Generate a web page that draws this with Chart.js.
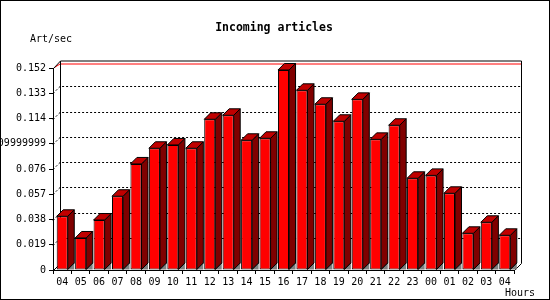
<!DOCTYPE html>
<html>
<head>
<meta charset="utf-8">
<script src="https://cdn.jsdelivr.net/npm/chart.js@4"></script>
<style>
  html, body { margin: 0; padding: 0; background: #fff; }
  canvas { display: block; }
</style>
</head>
<body>
<canvas id="chart" width="550" height="300"></canvas>
<script>
const hours = ['04', '05', '06', '07', '08', '09', '10', '11', '12', '13', '14', '15', '16',
  '17', '18', '19', '20', '21', '22', '23', '00', '01', '02', '03', '04'];
const artPerSec = [0.0404, 0.0241, 0.0376, 0.0555, 0.0798, 0.0916, 0.0941, 0.0916, 0.1134,
  0.1164, 0.0976, 0.0991, 0.1505, 0.1352, 0.1247, 0.1119, 0.1284, 0.0983, 0.1089, 0.0690,
  0.0712, 0.0577, 0.0276, 0.0359, 0.0261];
const tickValues = [0, 0.019, 0.038, 0.057, 0.076, 0.095, 0.114, 0.133, 0.152];
const tickLabels = ['0', '0.019', '0.038', '0.057', '0.076', '0.09999999', '0.114', '0.133', '0.152'];

const MONO = '"DejaVu Sans Mono", "Liberation Mono", monospace';
const WALL = 7;   // depth of the back wall
const DEPTH = 6.5; // depth of each bar

// back wall, floor and grid, drawn under the bars
const wallPlugin = {
  id: 'wall',
  beforeDatasetsDraw(chart) {
    const { ctx, chartArea: a, scales } = chart;
    const y = scales.y;
    ctx.save();
    ctx.lineWidth = 1;
    // dotted grid lines on back wall + left wall
    ctx.strokeStyle = '#000';
    ctx.setLineDash([2, 2]);
    tickValues.forEach((v, i) => {
      if (i === 0 || i === tickValues.length - 1) return;
      const fy = Math.round(y.getPixelForValue(v)) + 0.5;
      ctx.beginPath();
      ctx.moveTo(a.left, fy);
      ctx.lineTo(a.left + WALL, fy - WALL);
      ctx.lineTo(a.right + WALL, fy - WALL);
      ctx.stroke();
    });
    ctx.setLineDash([]);
    // red line at the max
    const topY = Math.round(a.top) + 0.5;
    ctx.strokeStyle = '#ff0000';
    ctx.beginPath();
    ctx.moveTo(a.left + 1.5, topY - 1);
    ctx.lineTo(a.left + WALL, topY - 4.5);
    ctx.lineTo(a.right + WALL, topY - 4.5);
    ctx.stroke();
    // wall frame
    ctx.strokeStyle = '#000';
    const L = Math.round(a.left) + 0.5, R = Math.round(a.right) + 0.5, B = Math.round(a.bottom) + 0.5;
    ctx.beginPath();
    ctx.moveTo(L, topY);
    ctx.lineTo(L + WALL, topY - WALL - 0.5);
    ctx.lineTo(R + WALL, topY - WALL - 0.5);
    ctx.lineTo(R + WALL, B - WALL);
    ctx.lineTo(R, B);
    ctx.moveTo(L + WALL, topY - WALL - 0.5);
    ctx.lineTo(L + WALL, B - WALL);
    ctx.lineTo(L, B);
    ctx.stroke();
    ctx.restore();
  },
  afterDatasetsDraw(chart) {
    const { ctx } = chart;
    const meta = chart.getDatasetMeta(0);
    ctx.save();
    ctx.lineWidth = 1;
    ctx.strokeStyle = '#000';
    meta.data.forEach(bar => {
      const l = bar.x - bar.width / 2;
      const r = bar.x + bar.width / 2;
      const t = bar.y;
      const b = bar.base;
      const d = DEPTH;
      // side
      ctx.fillStyle = '#800000';
      ctx.beginPath();
      ctx.moveTo(r, t);
      ctx.lineTo(r + d, t - d);
      ctx.lineTo(r + d, b - d);
      ctx.lineTo(r, b);
      ctx.closePath();
      ctx.fill();
      ctx.stroke();
      // top
      ctx.fillStyle = '#c00000';
      ctx.beginPath();
      ctx.moveTo(l, t);
      ctx.lineTo(l + d, t - d);
      ctx.lineTo(r + d, t - d);
      ctx.lineTo(r, t);
      ctx.closePath();
      ctx.fill();
      ctx.stroke();
      // floor shadow
      ctx.fillStyle = '#808080';
      ctx.beginPath();
      ctx.moveTo(r, b);
      ctx.lineTo(r + d, b - d);
      ctx.lineTo(r + d, b);
      ctx.closePath();
      ctx.fill();
      ctx.beginPath();
      ctx.moveTo(r, b);
      ctx.lineTo(r + d, b - d);
      ctx.stroke();
    });
    ctx.restore();
  },
  afterDraw(chart) {
    const { ctx } = chart;
    ctx.save();
    ctx.fillStyle = '#000';
    ctx.textBaseline = 'middle';
    ctx.font = 'bold 11.5px ' + MONO;
    ctx.textAlign = 'center';
    ctx.fillText('Incoming articles', 274, 28);
    ctx.font = '10px ' + MONO;
    ctx.textAlign = 'left';
    ctx.fillText('Art/sec', 30, 39);
    ctx.fillText('Hours', 505, 293);
    ctx.strokeStyle = '#000';
    ctx.lineWidth = 1;
    ctx.strokeRect(0.5, 0.5, 549, 299);
    ctx.restore();
  }
};

new Chart(document.getElementById('chart').getContext('2d'), {
  type: 'bar',
  data: {
    labels: hours,
    datasets: [{
      data: artPerSec,
      backgroundColor: '#ff0000',
      borderColor: '#000000',
      borderWidth: 1,
      borderSkipped: false,
      categoryPercentage: 1,
      barPercentage: 0.6
    }]
  },
  options: {
    responsive: false,
    animation: false,
    devicePixelRatio: 1,
    layout: { padding: { top: 68, right: 36, bottom: 0, left: 0 } },
    plugins: {
      legend: { display: false },
      tooltip: { enabled: false },
      title: { display: false }
    },
    scales: {
      x: {
        afterFit(scale) { scale.height = 30; },
        grid: { offset: true, drawOnChartArea: false, color: '#000', tickLength: 4 },
        border: { color: '#000' },
        ticks: { color: '#000', font: { family: MONO, size: 10 }, padding: 2, maxRotation: 0, autoSkip: false }
      },
      y: {
        min: 0,
        max: 0.152,
        afterFit(scale) { scale.width = 53; },
        afterBuildTicks(scale) { scale.ticks = tickValues.map(v => ({ value: v })); },
        grid: { drawOnChartArea: false, color: '#000', tickLength: 4 },
        border: { color: '#000' },
        ticks: {
          color: '#000',
          font: { family: MONO, size: 10 },
          padding: 3,
          autoSkip: false,
          callback: (v, i) => tickLabels[i]
        }
      }
    }
  },
  plugins: [wallPlugin]
});
</script>
</body>
</html>
